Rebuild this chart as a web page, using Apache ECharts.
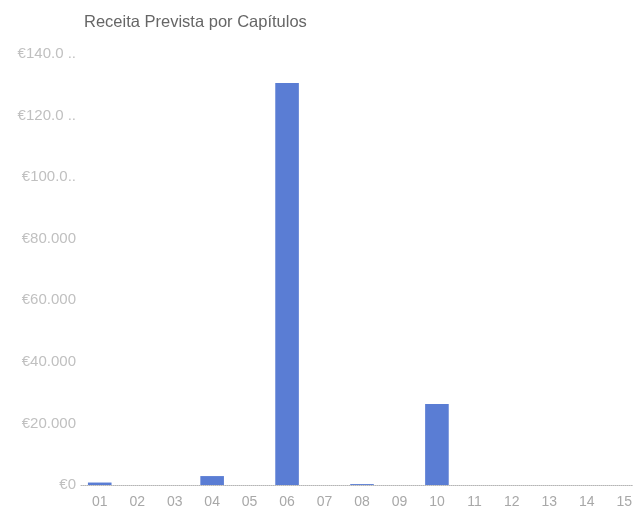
<!DOCTYPE html>
<html>
<head>
<meta charset="utf-8">
<script src="https://cdn.jsdelivr.net/npm/echarts@6/dist/echarts.min.js"></script>
<style>
html,body{margin:0;padding:0;background:#fff;overflow:hidden;}
#c{width:643px;height:511px;}
</style>
</head>
<body>
<div id="c"></div>
<script>
var title = 'Receita Prevista por Capítulos';
var categories = ['01','02','03','04','05','06','07','08','09','10','11','12','13','14','15'];
var values = [800, 0, 0, 2900, 0, 130600, 0, 300, 0, 26300, 0, 0, 0, 0, 0];
var yTickLabels = ['€0','€20.000','€40.000','€60.000','€80.000','€100.0..','€120.0 ..','€140.0 ..'];

var chart = echarts.init(document.getElementById('c'));
chart.setOption({
  animation: false,
  backgroundColor: '#ffffff',
  title: {
    text: title,
    left: 79,
    top: 9,
    textStyle: {fontFamily: 'Liberation Sans', fontSize: 16.5, fontWeight: 'normal', color: '#666666'}
  },
  grid: {left: 81, right: 0, top: 54, bottom: 26, containLabel: false},
  xAxis: {
    type: 'category',
    data: categories,
    axisLine: {show: true, lineStyle: {color: '#b5b5b5', type: 'dotted', width: 1}},
    axisTick: {show: false},
    axisLabel: {color: '#a8a8a8', fontFamily: 'Liberation Sans', fontSize: 14, margin: 10}
  },
  yAxis: {
    type: 'value',
    min: 0,
    max: 140000,
    interval: 20000,
    splitLine: {show: false},
    axisLine: {show: false},
    axisTick: {show: false},
    axisLabel: {
      color: '#c0c0c0',
      fontFamily: 'Liberation Sans',
      fontSize: 15,
      margin: 5,
      formatter: function (v) { return yTickLabels[Math.round(v / 20000)]; }
    }
  },
  series: [{
    type: 'bar',
    data: values,
    barWidth: '63%',
    itemStyle: {color: '#5a7dd4'}
  }]
});
</script>
</body>
</html>
